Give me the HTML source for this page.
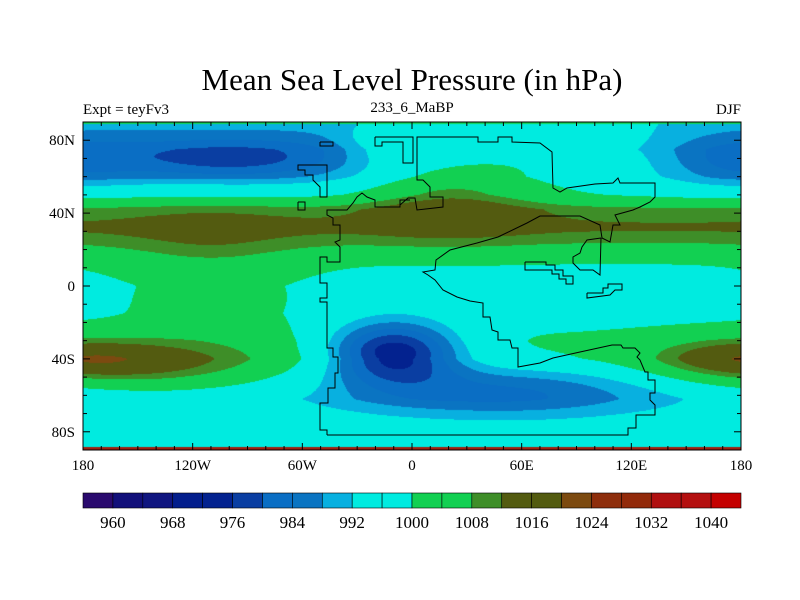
<!DOCTYPE html>
<html><head><meta charset="utf-8">
<style>
body{margin:0;background:#fff;}
#wrap{position:relative;width:800px;height:600px;overflow:hidden;background:#fff;font-family:"Liberation Serif",serif;}
canvas{position:absolute;left:83px;top:122px;}
svg{position:absolute;left:0;top:0;}
</style></head>
<body>
<div id="wrap">
<canvas id="field" width="658" height="328"></canvas>
<svg id="ov" width="800" height="600"></svg>
</div>
<script>
const levels=[960,964,968,972,976,980,984,988,992,996,1000,1004,1008,1012,1016,1020,1024,1028,1032,1036,1040];
const colors=["#2a0a6e","#12107a","#101680","#031e8c","#03228f","#0a3ea2","#0a6ec4","#0a74c2","#08b0e0","#00ebe0","#00ebe0","#12d052","#12d052","#3e8e28","#535b10","#535b10","#7c4a10","#8e2e0c","#922a0a","#b01010","#b41010","#c40000"];
const labelLevels=[960,968,976,984,992,1000,1008,1016,1024,1032,1040];
const baseLats=[90,75,60,50,42,32,22,12,0,-15,-30,-40,-50,-62,-75,-90];
const basePress=[990,987,991,998,1009,1013,1007,1000,997,998,1001,1002,998,994,996,998];
const blobLon=[-100,80,-20,20,-110,-143,172,-10,50,175];
const blobLat=[69,74,78,52,5,-43,-40,-36,-57,68];
const blobAmp=[-11,9,6,11,6,12,11,-27,-12,-6];
const blobSx=[45,45,15,32,35,45,32,26,60,25];
const blobSy=[8,14,8,15,25,10,8,12,11,10];
const xTicks=[-180,-120,-60,0,60,120,180];
const xLabels=["180","120W","60W","0","60E","120E","180"];
const yTicks=[80,40,0,-40,-80];
const yLabels=["80N","40N","0","40S","80S"];

const L=83,T=122,W=658,H=328;
function X(lon){return L+(lon+180)*W/360;}
function Y(lat){return T+(90-lat)*H/180;}
function base(lat){
  for(let i=0;i<baseLats.length-1;i++){
    if(lat<=baseLats[i]&&lat>=baseLats[i+1]){
      const t=(baseLats[i]-lat)/(baseLats[i]-baseLats[i+1]);
      return basePress[i]+t*(basePress[i+1]-basePress[i]);
    }
  }
  return basePress[basePress.length-1];
}
function press(lon,lat){
  let p=base(lat);
  for(let k=0;k<blobLon.length;k++){
    let d=lon-blobLon[k];
    if(d>180)d-=360; if(d<-180)d+=360;
    const e=lat-blobLat[k];
    p+=blobAmp[k]*Math.exp(-0.5*((d/blobSx[k])**2+(e/blobSy[k])**2));
  }
  return p;
}
function hex(c){return [parseInt(c.substr(1,2),16),parseInt(c.substr(3,2),16),parseInt(c.substr(5,2),16)];}
const rgb=colors.map(hex);
const cv=document.getElementById('field');
const ctx=cv.getContext('2d');
const img=ctx.createImageData(W,H);
for(let py=0;py<H;py++){
  const lat=90-(py+0.5)*180/H;
  for(let px=0;px<W;px++){
    const lon=-180+(px+0.5)*360/W;
    const p=press(lon,lat);
    let idx=0; while(idx<levels.length&&p>=levels[idx])idx++;
    const c=rgb[idx]; const o=(py*W+px)*4;
    img.data[o]=c[0];img.data[o+1]=c[1];img.data[o+2]=c[2];img.data[o+3]=255;
  }
}
ctx.putImageData(img,0,0);
ctx.fillStyle="#12d052";ctx.fillRect(0,0,W,2);
ctx.fillStyle="#a02010";ctx.fillRect(0,H-3,W,3);

const NS="http://www.w3.org/2000/svg";
const svg=document.getElementById('ov');
function mk(tag,attrs,parent){const e=document.createElementNS(NS,tag);for(const k in attrs)e.setAttribute(k,attrs[k]);(parent||svg).appendChild(e);return e;}

const coasts=[
"327,435 628,435 628,428 636,428 636,415 655,415 655,405 650,400 650,393 655,393 655,380 648,380 648,372 645,372 640,360 637,357 640,353 635,348 623,348 621,345 612,345 580,352 553,358 540,363 518,367 518,348 512,348 510,340 498,340 498,332 492,330 490,317 483,317 483,303 470,301 457,297 443,290 435,280 428,275 423,272 435,270 436,260 450,250 477,243 498,237 527,223 540,216 580,216 600,225 602,238 610,242 613,225 620,225 615,215 633,210 640,207 650,202 655,197 655,183 620,183 618,178 613,183 595,184 567,188 560,192 553,188 552,152 540,143 512,142 512,137 498,137 498,142 478,142 478,137 417,137 417,180 423,180 430,187 430,197 443,197 443,207 417,210 415,198 408,198 400,205 400,200 410,200 400,200 400,207 375,207 375,200 367,197 362,193 357,197 353,203 347,210 327,210 327,215 333,218 333,225 340,225 340,240 335,242 340,247 340,262 327,262 327,257 320,257 320,263 320,283 327,283 327,298 320,298 320,302 327,302 327,348 333,348 333,357 338,357 338,373 335,373 335,388 328,388 328,403 320,403 320,430 327,430 327,435",
"601,238 600,275 593,270 580,270 573,263 573,257 580,253 582,247 587,240 601,238",
"375,137 413,137 413,163 403,163 403,142 382,142 382,146 375,146 375,137",
"313,165 327,165 327,197 320,197 320,187 313,180 313,175 305,175 305,170 298,170 298,165 313,165",
"298,202 305,202 305,210 298,210 298,202",
"320,142 333,142 333,146 320,146 320,142",
"525,262 546,262 546,265 555,265 555,270 563,270 563,276 573,276 573,284 566,284 566,279 559,279 559,274 552,274 552,270 525,270 525,262",
"587,293 603,293 603,288 608,288 608,284 622,284 622,290 615,290 610,295 587,298 587,293"
];
coasts.forEach(pts=>{
  const e=mk('polyline',{points:pts,fill:'none',stroke:'#000','stroke-width':1});
  
  
});
const fr=mk('rect',{x:L,y:T,width:W,height:H,fill:'none',stroke:'#000','stroke-width':1});


for(let lon=-180;lon<=180;lon+=10){
  const major=lon%60===0; const len=major?7:4; const x=X(lon);
  const t1=mk('line',{x1:x,y1:T+H,x2:x,y2:T+H-len,stroke:'#000'});
  
  
  const t2=mk('line',{x1:x,y1:T,x2:x,y2:T+len,stroke:'#000'});
  
  
}
for(let lat=-90;lat<=90;lat+=10){
  const major=lat%40===0; const len=major?7:4; const y=Y(lat);
  const t1=mk('line',{x1:L,y1:y,x2:L+len,y2:y,stroke:'#000'});
  
  
  const t2=mk('line',{x1:L+W,y1:y,x2:L+W-len,y2:y,stroke:'#000'});
  
  
}
xTicks.forEach((v,i)=>{
  const t=mk('text',{x:X(v),y:470,'text-anchor':'middle','font-size':15,'font-family':'Liberation Serif, serif'});
  t.textContent=xLabels[i];
  
  
});
yTicks.forEach((v,i)=>{
  const t=mk('text',{x:75,y:Y(v)+5,'text-anchor':'end','font-size':15,'font-family':'Liberation Serif, serif'});
  t.textContent=yLabels[i];
  
  
});
function txt(s,x,y,size,anchor,name){
  const t=mk('text',{x:x,y:y,'text-anchor':anchor,'font-size':size,'font-family':'Liberation Serif, serif'});
  t.textContent=s;
  
  
}
txt("Mean Sea Level Pressure (in hPa)",412,90,31,'middle','chart-title');
txt("Expt = teyFv3",83,114,15,'start','experiment-label');
txt("233_6_MaBP",412,112,15,'middle','period-label');
txt("DJF",741,114,15,'end','season-label');
const cbY=493,cbH=15,bw=W/colors.length;
colors.forEach((c,i)=>{
  const r=mk('rect',{x:L+i*bw,y:cbY,width:bw,height:cbH,fill:c,stroke:'#000','stroke-width':0.6});
  
  
});
labelLevels.forEach(v=>{
  const i=levels.indexOf(v)+1;
  const t=mk('text',{x:L+i*bw,y:528,'text-anchor':'middle','font-size':17,'font-family':'Liberation Serif, serif'});
  t.textContent=v;
  
  
});
</script>
</body></html>
